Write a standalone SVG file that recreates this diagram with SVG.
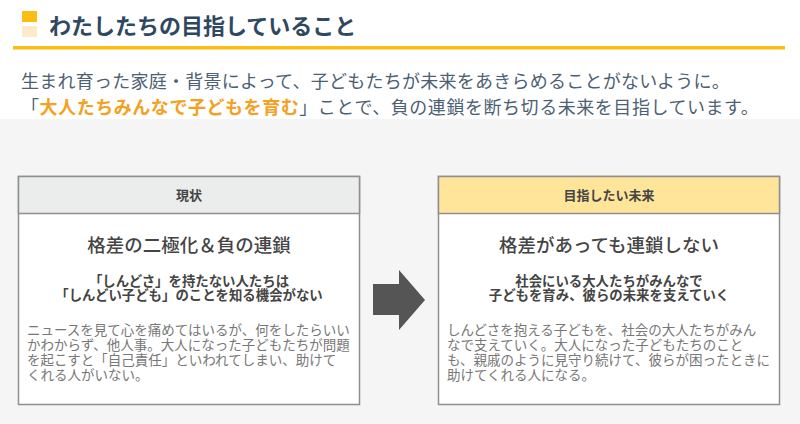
<svg xmlns="http://www.w3.org/2000/svg" width="800" height="424" viewBox="0 0 800 424">
<style>
text{font-family:"Noto Sans CJK JP","Noto Sans",sans-serif;}
.title{font-size:22px;font-weight:bold;fill:#2f4862;}
.lead{font-size:18px;fill:#4d5f73;letter-spacing:0.25px;}
.lead2{letter-spacing:0.55px;}
.em{fill:#f5a020;font-weight:bold;}
.box{fill:#ffffff;stroke:#8f8f8f;stroke-width:1.5;}
.hdr{stroke:#8f8f8f;stroke-width:1.5;}
.htxt{font-size:13px;font-weight:bold;fill:#444;text-anchor:middle;}
.head{font-size:18.5px;font-weight:500;fill:#444;text-anchor:middle;}
.sub{font-size:13.4px;font-weight:bold;fill:#444;text-anchor:middle;}
.body{font-size:13.5px;fill:#777777;}
</style>
<rect x="0" y="0" width="800" height="424" fill="#ffffff"/>
<rect x="0" y="119" width="800" height="305" fill="#f5f5f5"/>
<g id="header">
<rect x="22" y="11" width="15" height="11" fill="#fbbd12"/>
<rect x="22" y="26" width="15" height="11" fill="#fdebc8"/>
<text x="49" y="34" class="title">わたしたちの目指していること</text>
<rect x="13" y="46" width="772" height="3.5" fill="#fbbd12"/>
</g>
<g id="lead">
<text x="21" y="88" class="lead">生まれ育った家庭・背景によって、子どもたちが未来をあきらめることがないように。</text>
<text x="21" y="114" class="lead lead2">「<tspan class="em">大人たちみんなで子どもを育む</tspan>」ことで、負の連鎖を断ち切る未来を目指しています。</text>
</g>
<g id="now">
<rect x="18.5" y="176.5" width="341" height="228" class="box"/>
<rect x="18.5" y="176.5" width="341" height="37" fill="#ebecec" class="hdr"/>
<text x="189" y="200" class="htxt">現状</text>
<text x="189" y="252" class="head">格差の二極化＆負の連鎖</text>
<text x="189" y="286" class="sub">「しんどさ」を持たない人たちは</text>
<text x="189" y="300" class="sub">「しんどい子ども」のことを知る機会がない</text>
<text class="body"><tspan x="27" y="335">ニュースを見て心を痛めてはいるが、何をしたらいい</tspan><tspan x="27" y="350">かわからず、他人事。大人になった子どもたちが問題</tspan><tspan x="27" y="365">を起こすと「自己責任」といわれてしまい、助けて</tspan><tspan x="27" y="380">くれる人がいない。</tspan></text>
</g>
<g id="connectors">
<polygon points="373,284 399,284 399,270 425,300 399,330 399,315 373,315" fill="#555555"/>
</g>
<g id="future">
<rect x="438.5" y="176.5" width="341" height="228" class="box"/>
<rect x="438.5" y="176.5" width="341" height="37" fill="#ffe59a" class="hdr"/>
<text x="609" y="200" class="htxt">目指したい未来</text>
<text x="609" y="252" class="head">格差があっても連鎖しない</text>
<text x="609" y="286" class="sub">社会にいる大人たちがみんなで</text>
<text x="609" y="300" class="sub">子どもを育み、彼らの未来を支えていく</text>
<text class="body"><tspan x="447" y="335">しんどさを抱える子どもを、社会の大人たちがみん</tspan><tspan x="447" y="350">なで支えていく。大人になった子どもたちのこと</tspan><tspan x="447" y="365">も、親戚のように見守り続けて、彼らが困ったときに</tspan><tspan x="447" y="380">助けてくれる人になる。</tspan></text>
</g>
</svg>
